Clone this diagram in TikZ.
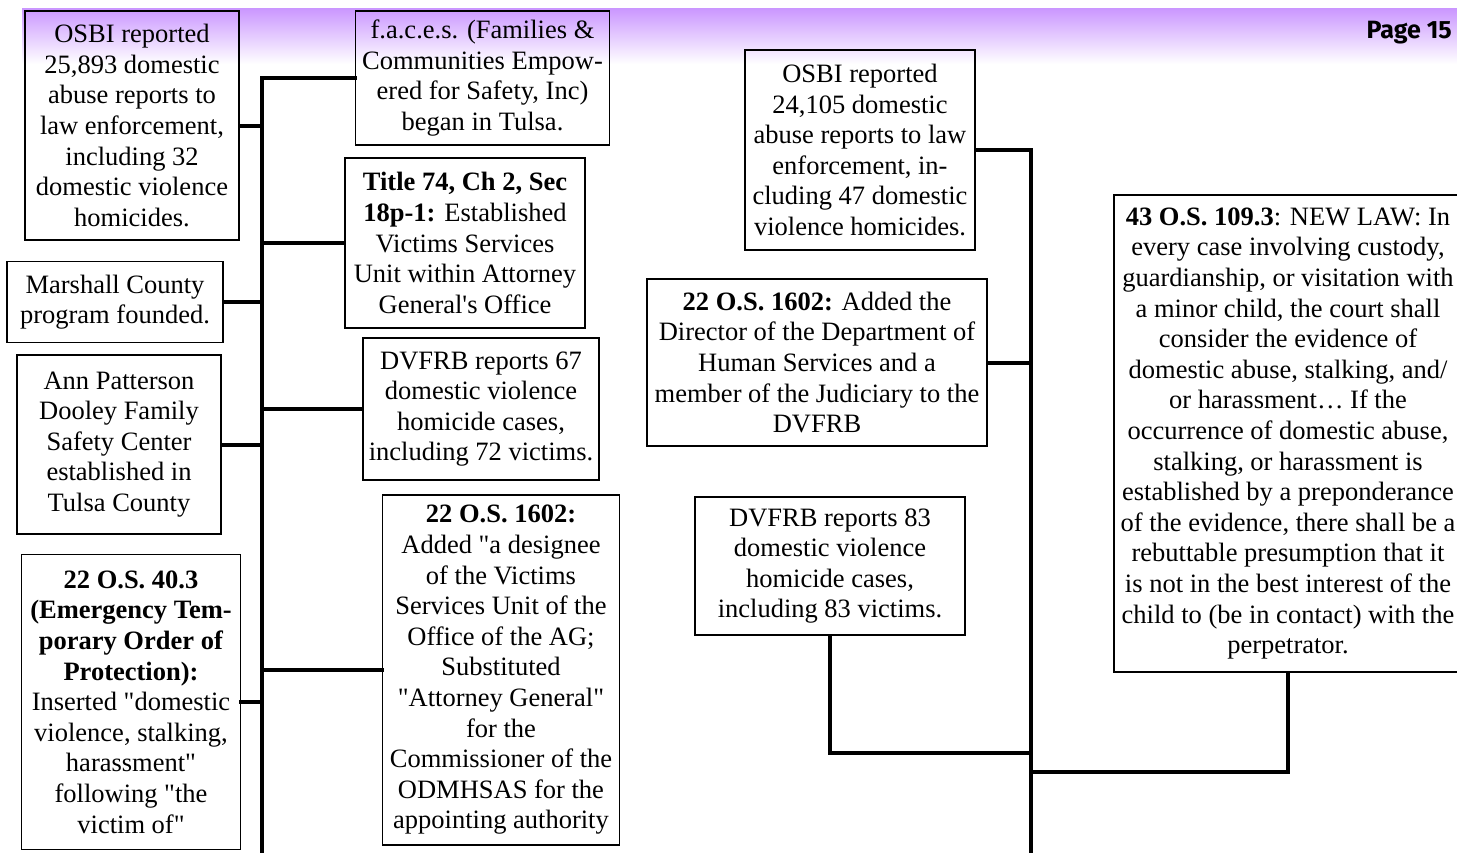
\documentclass[tikz,border=0pt]{standalone}
\usepackage{fontspec}
% plain family: keeps straight quotes and apostrophes as typed
\newfontfamily\boxserif{Liberation Serif}
\newfontfamily\pagefont{Fira Sans}
\definecolor{bannerpurple}{RGB}{202,150,255}
\tikzset{
  tbox/.style={draw=black, line width=1.8pt, inner sep=0pt, align=center,
    font=\boxserif\fontsize{26.5pt}{30.6pt}\selectfont},
  conn/.style={draw=black, line width=4pt, line join=miter, line cap=rect},
}
\begin{document}
\begin{tikzpicture}[x=1pt,y=-1pt]
\useasboundingbox (0,0) rectangle (1457,852);
\clip (0,0) rectangle (1457,852);

% header band
\shade[top color=bannerpurple, bottom color=white] (22,8) rectangle (1457,64);
\node[anchor=base east, inner sep=0pt, font=\pagefont\bfseries\fontsize{25pt}{25pt}\selectfont] (pg) at (1452,38) {Page 15};

% left trunk
\coordinate (Ltop) at (262,78);
\coordinate (Lbot) at (262,852);
\draw[conn] (Ltop) -- (Lbot);

% left column boxes
\node[tbox, minimum width=214pt, minimum height=229pt] (osbiA) at (132,125.5)
  {OSBI reported\\25,893 domestic\\abuse reports to\\law enforcement,\\including 32\\domestic violence\\homicides.};
\node[tbox, minimum width=216pt, minimum height=81pt] (marshall) at (115,302)
  {Marshall County\\program founded.};
\node[tbox, minimum width=204pt, minimum height=179pt] (ann) at (119,444.5)
  {Ann Patterson\\Dooley Family\\Safety Center\\established in\\Tulsa County};
\node[tbox, minimum width=219pt, minimum height=295pt] (eto) at (131,702)
  {\textbf{22 O.S. 40.3}\\\textbf{(Emergency Tem-}\\\textbf{porary Order of}\\\textbf{Protection):}\\Inserted "domestic\\violence, stalking,\\harassment"\\following "the\\victim of"};

% middle column boxes
\node[tbox, minimum width=254pt, minimum height=134pt] (faces) at (482.5,78)
  {f.a.c.e.s. (Families \&\\Communities Empow-\\ered for Safety, Inc)\\began in Tulsa.};
\node[tbox, minimum width=240pt, minimum height=170pt] (title74) at (465,243)
  {\textbf{Title 74, Ch 2, Sec}\\\textbf{18p-1:} Established\\Victims Services\\Unit within Attorney\\General's Office};
\node[tbox, minimum width=236pt, minimum height=142pt] (dvfrbA) at (481,409)
  {DVFRB reports 67\\domestic violence\\homicide cases,\\including 72 victims.};
\node[tbox, minimum width=237pt, minimum height=350pt] (osA) at (501,670)
  {\textbf{22 O.S. 1602:}\\Added "a designee\\of the Victims\\Services Unit of the\\Office of the AG;\\Substituted\\"Attorney General"\\for the\\Commissioner of the\\ODMHSAS for the\\appointing authority};

% left connectors
\draw[conn] (osbiA.east) -- (osbiA.east -| Ltop);
\draw[conn] (marshall.east) -- (marshall.east -| Ltop);
\draw[conn] (ann.east) -- (ann.east -| Ltop);
\draw[conn] (eto.east) -- (eto.east -| Ltop);
\draw[conn] (faces.west) -- (Ltop);
\draw[conn] (title74.west) -- (title74.west -| Ltop);
\draw[conn] (dvfrbA.west) -- (dvfrbA.west -| Ltop);
\draw[conn] (osA.west) -- (osA.west -| Ltop);

% right trunk
\coordinate (Rtop) at (1031,150);
\coordinate (Rbot) at (1031,852);
\draw[conn] (Rtop) -- (Rbot);

% right side boxes
\node[tbox, minimum width=230pt, minimum height=200pt] (osbiB) at (860,150)
  {OSBI reported\\24,105 domestic\\abuse reports to law\\enforcement, in-\\cluding 47 domestic\\violence homicides.};
\node[tbox, minimum width=340pt, minimum height=167pt] (osB) at (817,362.5)
  {\textbf{22 O.S. 1602:} Added the\\Director of the Department of\\Human Services and a\\member of the Judiciary to the\\DVFRB};
\node[tbox, minimum width=270pt, minimum height=138pt] (dvfrbB) at (830,566)
  {DVFRB reports 83\\domestic violence\\homicide cases,\\including 83 victims.};
\node[tbox, minimum width=348pt, minimum height=477pt] (law) at (1288,433.5)
  {\textbf{43 O.S. 109.3}: NEW LAW: In\\every case involving custody,\\guardianship, or visitation with\\a minor child, the court shall\\consider the evidence of\\domestic abuse, stalking, and/\\or harassment\char"2026{} If the\\occurrence of domestic abuse,\\stalking, or harassment is\\established by a preponderance\\of the evidence, there shall be a\\rebuttable presumption that it\\is not in the best interest of the\\child to (be in contact) with the\\perpetrator.};

% right connectors
\draw[conn] (osbiB.east) -- (Rtop);
\draw[conn] (osB.east) -- (osB.east -| Rtop);
\coordinate (jA) at (1031,753);
\coordinate (jB) at (1031,772);
\draw[conn] (dvfrbB.south) -- (dvfrbB.south |- jA) -- (jA);
\draw[conn] (law.south) -- (law.south |- jB) -- (jB);
\end{tikzpicture}
\end{document}
